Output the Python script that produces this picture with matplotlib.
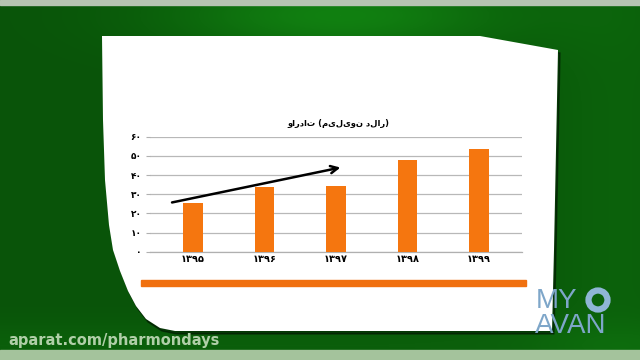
import numpy as np
import matplotlib
matplotlib.use('Agg')
import matplotlib.pyplot as plt
from matplotlib.patches import Polygon, Rectangle, Circle

# ---- data ----
years = ['۱۳۹۵', '۱۳۹۶', '۱۳۹۷', '۱۳۹۸', '۱۳۹۹']
imports = [25.5, 34.0, 34.5, 48.0, 53.5]
yticks = [0, 10, 20, 30, 40, 50, 60]
ytick_labels = ['۰', '۱۰', '۲۰', '۳۰', '۴۰', '۵۰', '۶۰']
trend_x = [-0.33, 2.1]
trend_y = [25.4, 44.2]
title = 'واردات (میلیون دلار)'

W, H = 640, 360
fig = plt.figure(figsize=(6.4, 3.6), dpi=100)

# ---- background (pixel coordinates, y down) ----
bg = fig.add_axes([0, 0, 1, 1])
bg.set_xlim(0, W)
bg.set_ylim(H, 0)
bg.axis('off')
xx, yy = np.meshgrid(np.arange(W), np.arange(H))
base = np.array([9, 84, 9]) / 255.0
hi = np.array([17, 128, 17]) / 255.0
g = np.exp(-((xx - 340) / 170.0) ** 2 - ((yy - 15) / 40.0) ** 2)
g2 = 0.3 * np.exp(-((xx - 620) / 90.0) ** 2)
g3 = 0.25 * np.exp(-((yy - 345) / 25.0) ** 2)
w = np.clip(g + g2 + g3, 0, 1)[..., None]
img = base * (1 - w) + hi * w
bg.imshow(img, extent=[0, W, H, 0], aspect='auto', zorder=0)
bg.add_patch(Rectangle((0, 0), W, 4.5, color='#b6c4b2', zorder=1))
bg.add_patch(Rectangle((0, 350), W, 10, color='#a4c39c', zorder=1))

paper = [(102, 36), (480, 36), (558, 50), (556, 150), (554, 250), (552, 331),
         (175, 331), (160, 328), (146, 319), (136, 306), (128, 291), (120, 271),
         (113, 250), (109, 225), (105, 180), (103, 120)]
shadow = [(x + 2, y + 3) for x, y in paper]
bg.add_patch(Polygon(shadow, closed=True, color='black', alpha=0.4, zorder=2))
bg.add_patch(Polygon(paper, closed=True, facecolor='white', edgecolor='none', zorder=3))
bg.add_patch(Rectangle((141, 280), 385, 6, color='#f0700f', zorder=4))

bg.text(8, 341, 'aparat.com/pharmondays', fontsize=10.5, fontweight='bold',
        color='#b0cfa8', ha='left', va='center', family='DejaVu Sans', zorder=5)
bg.text(536, 301, 'MY', fontsize=20, color='#7ea6c9', ha='left', va='center',
        family='Liberation Sans', zorder=5)
bg.add_patch(Circle((598, 300), 9.5, fill=False, lw=4.5, edgecolor='#8fb6d6', zorder=5))
bg.text(535, 326, 'AVAN', fontsize=20, color='#7ea6c9', ha='left', va='center',
        family='Liberation Sans', zorder=5)

# ---- chart ----
ax = fig.add_axes([150 / W, 1 - 251.7 / H, 372 / W, 115 / H])
ax.patch.set_alpha(0)
x = np.arange(len(years))
ax.bar(x, imports, width=0.27, color='#f5760f', zorder=3)
ax.set_xlim(-0.6, 4.6)
ax.set_ylim(0, 60)
ax.set_yticks(yticks)
ax.set_yticklabels(ytick_labels, fontsize=6.5, fontweight='bold', family='DejaVu Sans')
ax.set_xticks(x)
ax.set_xticklabels(years, fontsize=7, fontweight='bold', family='DejaVu Sans')
ax.tick_params(axis='y', length=3, color='#b0b0b0', pad=3)
ax.tick_params(axis='x', length=0, pad=2)
ax.grid(axis='y', color='#b8b8b8', lw=0.9, zorder=0)
for s in ['top', 'right', 'left']:
    ax.spines[s].set_visible(False)
ax.spines['bottom'].set_color('#b0b0b0')
ax.spines['bottom'].set_linewidth(0.9)
ax.annotate('', xy=(trend_x[1], trend_y[1]), xytext=(trend_x[0], trend_y[0]),
            arrowprops=dict(arrowstyle='->', lw=1.8, color='black',
                            mutation_scale=13), zorder=5, annotation_clip=False)

fig.text(338 / W, 1 - 124 / H, title, fontsize=6, fontweight='bold',
         ha='center', va='center', family='DejaVu Sans')

fig.savefig('out.png', dpi=100)
